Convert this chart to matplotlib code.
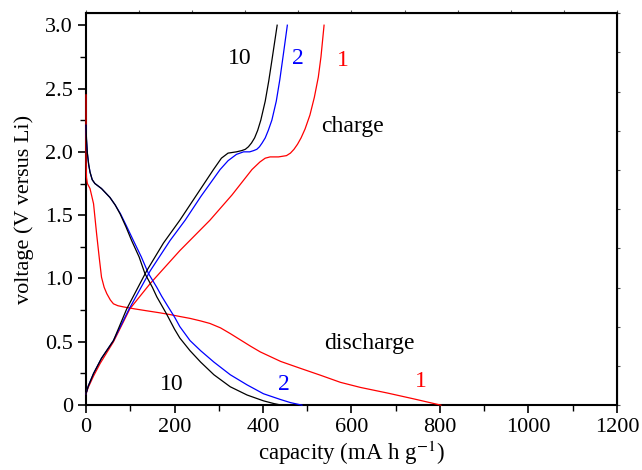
import matplotlib
matplotlib.use("Agg")
import matplotlib.pyplot as plt
import numpy as np

plt.rcParams['font.family'] = ['Liberation Serif', 'DejaVu Serif']
plt.rcParams['mathtext.fontset'] = 'stix'
plt.rcParams['font.size'] = 16

# ---------------------------------------------------------------- data
# discharge curves (capacity mA h/g, voltage V)
dis1_x = [0, 0, 1, 3, 9, 17, 24, 30, 35, 41, 47, 55, 62, 72, 84, 110, 137, 165, 190, 212,
          235, 259, 280, 304, 326, 349, 372, 394, 440, 485, 530, 575, 620, 682, 740, 802]
dis1_y = [2.45, 1.93, 1.80, 1.75, 1.71, 1.59, 1.35, 1.16, 1.01, 0.93, 0.88, 0.83, 0.80, 0.785,
          0.776, 0.76, 0.745, 0.73, 0.715, 0.70, 0.685, 0.665, 0.645, 0.61, 0.565, 0.515,
          0.465, 0.42, 0.345, 0.29, 0.236, 0.18, 0.14, 0.095, 0.05, 0.0]

dis2_x = [0, 1, 3, 6, 9, 14, 20, 35, 54, 66, 78, 92, 107, 125, 141, 160, 171, 185, 201, 212,
          235, 259, 289, 326, 364, 401, 439, 462, 488]
dis2_y = [2.21, 2.10, 1.99, 1.90, 1.84, 1.78, 1.75, 1.71, 1.64, 1.58, 1.51, 1.41, 1.30, 1.17,
          1.04, 0.93, 0.86, 0.78, 0.69, 0.62, 0.51, 0.43, 0.34, 0.24, 0.16, 0.09, 0.045, 0.02, 0.0]

dis10_x = [0, 1, 3, 6, 9, 14, 20, 35, 54, 66, 77, 90, 103, 120, 133, 150, 160, 182, 200, 212,
           235, 259, 289, 326, 364, 401, 425, 442]
dis10_y = [2.21, 2.10, 1.99, 1.90, 1.84, 1.78, 1.75, 1.71, 1.64, 1.58, 1.51, 1.41, 1.30, 1.17,
           1.04, 0.93, 0.855, 0.72, 0.60, 0.53, 0.43, 0.34, 0.24, 0.145, 0.08, 0.034, 0.012, 0.0]

# charge curves
ch1_x = [0, 5, 17, 32, 62, 99, 145, 212, 280, 330, 375, 393, 405, 416, 435, 453, 462, 470,
         478, 486, 495, 506, 516, 525, 531, 538]
ch1_y = [0.09, 0.14, 0.23, 0.33, 0.50, 0.76, 0.96, 1.22, 1.46, 1.66, 1.86, 1.92, 1.95, 1.96,
         1.96, 1.97, 1.99, 2.02, 2.06, 2.11, 2.18, 2.29, 2.43, 2.59, 2.75, 3.0]

ch2_x = [0, 5, 17, 35, 62, 96, 145, 190, 224, 260, 303, 321, 340, 356, 370, 379, 386, 392,
         398, 405, 412, 420, 430, 438, 446, 455]
ch2_y = [0.09, 0.15, 0.25, 0.37, 0.51, 0.75, 1.06, 1.30, 1.46, 1.65, 1.86, 1.93, 1.98, 2.0,
         2.0, 2.01, 2.02, 2.04, 2.07, 2.11, 2.17, 2.25, 2.40, 2.57, 2.77, 3.0]

ch10_x = [0, 5, 17, 35, 62, 92, 137, 175, 212, 250, 288, 306, 321, 340, 352, 360, 367, 374,
          381, 388, 395, 405, 413, 420, 426, 432]
ch10_y = [0.09, 0.15, 0.25, 0.37, 0.51, 0.76, 1.06, 1.28, 1.46, 1.66, 1.86, 1.95, 1.99, 2.0,
          2.01, 2.02, 2.04, 2.07, 2.11, 2.17, 2.25, 2.40, 2.56, 2.72, 2.86, 3.0]

x_ticks = [0, 200, 400, 600, 800, 1000, 1200]
y_ticks = [0, 0.5, 1.0, 1.5, 2.0, 2.5, 3.0]
y_labels = ['0', '0.5', '1.0', '1.5', '2.0', '2.5', '3.0']

# ---------------------------------------------------------------- plot
fig = plt.figure(figsize=(6.42, 4.70), dpi=100)
ax = fig.add_axes([0.134, 0.138, 0.827, 0.834])

lw = 0.9
for xs, ys, c in [(dis1_x, dis1_y, '#ff0000'), (ch1_x, ch1_y, '#ff0000'),
                  (dis2_x, dis2_y, '#0000ff'), (ch2_x, ch2_y, '#0000ff'),
                  (dis10_x, dis10_y, 'black'), (ch10_x, ch10_y, 'black')]:
    ax.plot(xs, ys, color=c, lw=lw, zorder=3, clip_on=False)

ax.set_xlim(0, 1200)
ax.set_ylim(0, 3.095)
ax.set_xticks(x_ticks)
ax.set_xticks(np.arange(100, 1200, 200), minor=True)
ax.set_yticks(y_ticks)
ax.set_yticklabels(y_labels)
ax.set_yticks(np.arange(0.25, 3.0, 0.5), minor=True)

ax.tick_params(which='major', direction='out', length=6, width=1.2)
ax.tick_params(which='minor', direction='out', length=4, width=1.0)
for s in ax.spines.values():
    s.set_linewidth(1.5)

# small ticks on top / right
top = ax.secondary_xaxis('top')
top.set_xticks(np.arange(0, 1201, 120))
top.set_xticklabels([])
top.tick_params(direction='out', length=2, width=0.8, color='#555555')
right = ax.secondary_yaxis('right')
right.set_yticks(np.linspace(0, 3.095, 11))
right.set_yticklabels([])
right.tick_params(direction='out', length=2, width=0.8, color='#555555')

ax.set_xlabel('capacity (mA h g$^{-1}$)', labelpad=1, fontsize=16.5)
ax.set_ylabel('voltage (V versus Li)', labelpad=8)

# annotations
fs = 17
ax.text(348, 2.74, '10', color='black', ha='center', va='center', fontsize=fs)
ax.text(479, 2.74, '2', color='#0000ff', ha='center', va='center', fontsize=fs)
ax.text(581, 2.72, '1', color='#ff0000', ha='center', va='center', fontsize=fs)
ax.text(603, 2.20, 'charge', color='black', ha='center', va='center', fontsize=fs)
ax.text(640, 0.49, 'discharge', color='black', ha='center', va='center', fontsize=fs)
ax.text(194, 0.16, '10', color='black', ha='center', va='center', fontsize=fs)
ax.text(447, 0.16, '2', color='#0000ff', ha='center', va='center', fontsize=fs)
ax.text(757, 0.19, '1', color='#ff0000', ha='center', va='center', fontsize=fs)

plt.savefig('out.png', dpi=100)
